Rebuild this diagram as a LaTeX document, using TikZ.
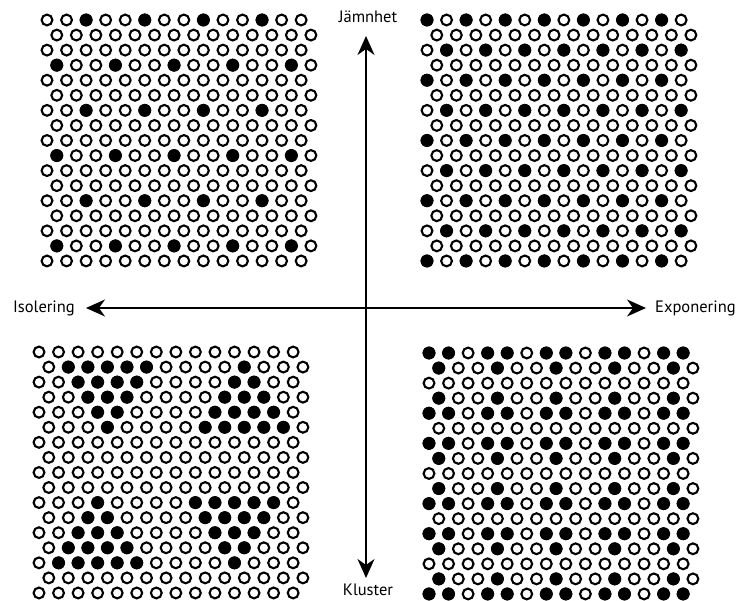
\documentclass[tikz,border=0pt]{standalone}
\usepackage{fontspec}
\setmainfont{PT Sans}
\usetikzlibrary{arrows.meta}
\newcommand\circgrid[2]{%
  \foreach \r in {0,...,16}{%
    \pgfmathsetmacro\hgoff{mod(\r,2)*9.775}%
    \foreach \c in {0,...,13}{%
      \draw[opencirc] ({#1+\hgoff+\c*19.55},{#2+\r*15.06}) circle (5.4pt);
    }%
  }%
}
\newcommand\fillrow[4]{%
  \pgfmathsetmacro\hgoff{mod(#3,2)*9.775}%
  \foreach \c in {#4}{%
    \fill[fullcirc] ({#1+\hgoff+\c*19.55},{#2+#3*15.06}) circle (6.5pt);
  }%
}
\begin{document}
\begin{tikzpicture}[x=1pt,y=-1pt,
  opencirc/.style={draw=black, line width=2.1pt, fill=white},
  fullcirc/.style={fill=black},
  axis/.style={line width=1.4pt, {Stealth[length=19pt,width=17pt,inset=6pt]}-{Stealth[length=19pt,width=17pt,inset=6pt]}},
  lbl/.style={font=\fontsize{16.5}{18}\selectfont, inner sep=0pt}]
\useasboundingbox[fill=white] (0,0) rectangle (741,601);

% top-left grid
\circgrid{47}{20}
\foreach \rr in {0,6,12}{\fillrow{47}{20}{\rr}{2,5,8,11}}
\foreach \rr in {3,9,15}{\fillrow{47}{20}{\rr}{0,3,6,9,12}}

% top-right grid
\circgrid{427}{20}
\foreach \rr in {0,4,8,12,16}{\fillrow{427}{20}{\rr}{0,2,4,6,8,10,12}}
\foreach \rr in {2,6,10,14}{\fillrow{427}{20}{\rr}{1,3,5,7,9,11,13}}

% bottom-left grid
\circgrid{39}{352}
\fillrow{39}{352}{1}{1,2,3,4,5,10}
\fillrow{39}{352}{2}{2,3,4,5,10,11}
\fillrow{39}{352}{3}{2,3,4,9,10,11}
\fillrow{39}{352}{4}{3,4,9,10,11,12}
\fillrow{39}{352}{5}{3,8,9,10,11,12}
\fillrow{39}{352}{10}{3,8,9,10,11,12}
\fillrow{39}{352}{11}{2,3,8,9,10,11}
\fillrow{39}{352}{12}{2,3,4,9,10,11}
\fillrow{39}{352}{13}{1,2,3,4,9,10}
\fillrow{39}{352}{14}{1,2,3,4,5,10}

% bottom-right grid
\circgrid{429}{353}
\foreach \rr in {0,4,6,10,12,16}{\fillrow{429}{353}{\rr}{0,1,3,4,6,7,9,10,12,13}}
\foreach \rr in {1,3,7,9,13,15}{\fillrow{429}{353}{\rr}{0,3,6,9,12}}

% axes
\coordinate (vt) at (366,36);
\coordinate (vb) at (366,578);
\coordinate (hl) at (86,308);
\coordinate (hr) at (646,308);
\draw[axis] (vt) -- (vb);
\draw[axis] (hl) -- (hr);

% labels
\node[lbl] (jam) at (368,17) {Jämnhet};
\node[lbl] (klu) at (368,590) {Kluster};
\node[lbl, anchor=east] (iso) at (75,308) {Isolering};
\node[lbl, anchor=west] (exp) at (655,308) {Exponering};
\end{tikzpicture}
\end{document}
